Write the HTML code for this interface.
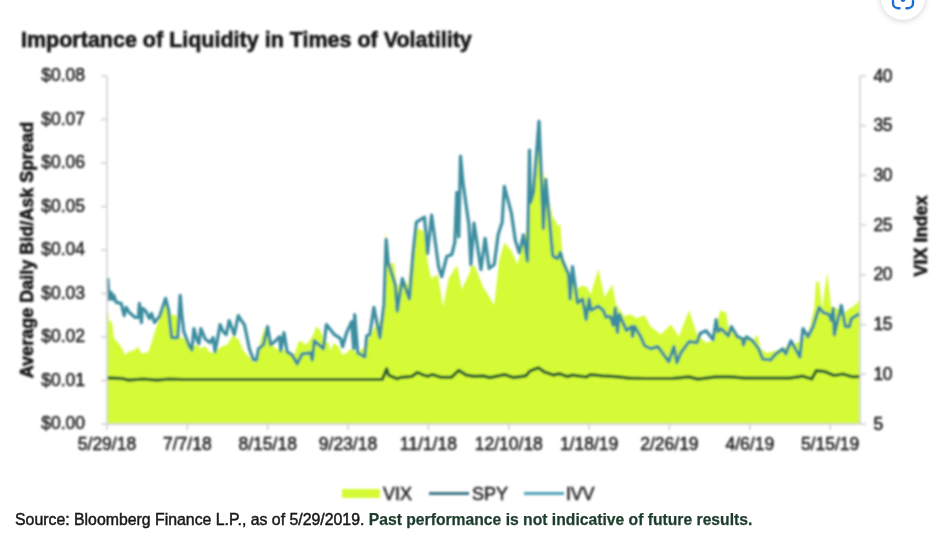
<!DOCTYPE html>
<html><head><meta charset="utf-8"><style>
html,body{margin:0;padding:0;background:#fff;width:941px;height:550px;overflow:hidden}
svg{position:absolute;left:0;top:0;display:block}
.lab{font-family:'Liberation Sans', sans-serif;font-size:17.5px;fill:#1c1c1c;stroke:#1c1c1c;stroke-width:0.5px;letter-spacing:0}
.ax{stroke:#cfcfcf;stroke-width:1.5}
</style></head><body>
<svg width="941" height="550" viewBox="0 0 941 550">
<defs><filter id="bl" x="-5%" y="-5%" width="110%" height="110%"><feGaussianBlur stdDeviation="1"/></filter></defs>
<rect width="941" height="550" fill="#fff"/>
<g filter="url(#bl)">
<text x="21" y="47" style="font-family:'Liberation Sans', sans-serif;font-weight:bold;font-size:21.5px;fill:#141414;stroke:#141414;stroke-width:0.55px">Importance of Liquidity in Times of Volatility</text>
<path d="M107.0 424.0 L107.0 310.5 L107.7 310.5 L109.1 320.5 L112.1 322.6 L114.1 338.7 L118.2 342.7 L122.2 348.8 L125.2 354.9 L128.3 351.8 L133.3 350.8 L138.4 346.8 L140.4 351.8 L142.4 353.8 L148.5 351.8 L152.5 339.7 L156.5 326.6 L160.6 316.5 L164.6 300.4 L167.6 308.4 L171.7 314.5 L176.7 315.5 L179.7 336.7 L184.8 338.7 L188.8 342.7 L192.9 345.8 L196.9 344.8 L200.9 348.8 L205.0 345.8 L209.0 351.8 L213.1 352.8 L221.1 346.8 L227.2 344.8 L233.3 334.7 L239.3 340.7 L243.3 350.8 L249.4 356.9 L253.4 362.9 L257.5 354.9 L261.5 336.7 L265.6 326.6 L269.6 340.7 L275.7 348.8 L280.0 348.8 L288.1 351.8 L294.1 354.9 L298.2 342.7 L300.2 340.7 L306.2 344.8 L312.3 336.7 L316.3 326.6 L320.4 330.6 L324.4 340.7 L328.5 342.7 L330.5 350.8 L333.5 342.7 L338.6 346.8 L342.6 354.9 L346.6 352.8 L350.7 348.8 L356.7 352.8 L364.8 346.8 L368.8 338.7 L374.9 326.6 L380.9 320.5 L380.9 320.0 L383.1 304.7 L385.3 230.5 L388.6 263.3 L394.0 263.3 L397.3 287.3 L402.8 278.6 L408.2 285.1 L412.6 243.6 L416.9 228.4 L423.5 230.5 L427.9 263.3 L431.1 278.6 L437.7 274.2 L443.1 306.9 L448.6 278.6 L454.1 269.8 L457.3 265.5 L461.7 289.5 L470.0 272.0 L470.9 264.6 L475.0 266.6 L483.1 286.8 L494.2 304.9 L499.2 260.5 L504.3 242.4 L511.3 250.5 L517.4 264.6 L526.5 230.3 L529.5 200.0 L537.6 150.0 L539.0 121.0 L541.6 172.2 L544.0 175.0 L547.7 194.4 L552.3 216.1 L558.4 226.2 L560.4 224.2 L562.4 254.5 L565.1 261.5 L572.8 281.9 L577.2 288.3 L582.3 285.7 L586.8 287.0 L590.6 294.6 L598.3 269.1 L604.6 297.2 L612.3 284.4 L616.1 304.8 L617.4 306.2 L624.4 316.3 L630.5 314.3 L636.5 318.3 L644.6 315.3 L650.7 326.4 L660.8 334.5 L670.9 324.4 L678.9 336.5 L689.0 310.3 L697.1 334.5 L706.1 342.8 L712.1 340.8 L720.2 310.5 L726.2 312.6 L728.3 326.7 L736.3 334.8 L752.5 340.8 L757.5 334.8 L760.6 348.9 L766.6 352.9 L774.7 350.9 L792.9 344.9 L800.9 340.8 L809.0 330.7 L814.1 308.5 L816.1 281.3 L819.1 282.3 L822.1 308.5 L827.2 272.2 L831.2 306.5 L837.3 308.5 L845.4 312.6 L847.4 310.5 L849.4 308.5 L853.4 306.5 L859.5 300.5 L860.0 300.5 L860.0 424.0 Z" fill="#d4fb35"/>
<path d="M107.2 377.8 L123.0 378.7 L128.7 380.1 L143.0 379.0 L157.4 380.1 L168.9 379.0 L183.2 379.5 L240.6 379.5 L370.0 379.5 L382.3 379.5 L386.6 368.8 L388.7 375.2 L397.2 378.8 L401.4 377.3 L412.1 376.3 L417.4 372.4 L423.8 375.2 L428.0 376.3 L432.3 374.6 L440.8 377.3 L451.4 377.3 L458.8 370.3 L466.3 375.2 L474.8 376.3 L483.3 375.9 L489.7 377.6 L504.5 374.6 L513.0 377.6 L525.8 375.9 L530.0 371.0 L538.5 367.8 L544.5 372.1 L553.4 375.1 L559.3 373.6 L566.8 376.6 L572.7 375.1 L586.1 377.0 L590.6 374.6 L602.5 375.8 L615.9 376.6 L629.3 378.1 L644.2 378.5 L659.0 378.5 L673.4 378.4 L689.0 376.9 L697.9 379.1 L715.8 376.9 L731.4 376.9 L744.8 378.2 L789.5 378.2 L802.9 376.2 L811.8 379.1 L816.3 370.6 L825.2 371.7 L834.1 375.5 L843.0 374.0 L852.0 376.7 L860.0 376.7" fill="none" stroke="#1b5a32" stroke-width="3.2" stroke-linejoin="round"/>
<path d="M107.7 278.2 L109.1 299.4 L111.1 292.3 L112.5 299.4 L113.7 295.3 L116.2 302.4 L121.2 303.4 L124.2 315.5 L126.2 307.4 L129.3 312.5 L135.3 317.5 L138.4 317.5 L139.4 303.4 L141.4 322.6 L142.4 308.4 L145.4 310.5 L149.5 318.5 L151.5 313.5 L154.5 322.6 L159.6 316.5 L165.6 298.3 L168.6 310.5 L171.7 337.7 L177.7 337.7 L180.2 295.3 L181.8 314.5 L183.8 331.6 L188.8 344.8 L191.9 349.8 L193.9 328.6 L196.9 339.7 L198.9 343.8 L200.9 328.6 L205.0 338.7 L210.0 342.7 L213.1 337.7 L215.1 351.8 L220.1 324.6 L223.2 331.6 L226.2 334.7 L229.2 320.5 L234.3 334.7 L238.3 315.5 L241.3 320.5 L244.4 324.6 L249.4 348.8 L253.4 359.9 L256.5 359.9 L258.5 348.8 L263.5 344.8 L267.6 326.6 L270.6 344.8 L273.6 342.7 L279.7 336.7 L280.7 350.8 L284.0 332.7 L287.1 351.8 L292.1 354.9 L297.2 363.9 L302.2 353.8 L310.3 352.8 L312.3 359.9 L314.3 340.7 L323.4 348.8 L326.4 324.6 L334.5 334.7 L340.6 338.7 L342.6 346.8 L346.6 332.7 L351.7 321.6 L353.7 348.8 L354.7 314.5 L357.7 352.8 L364.8 356.9 L366.8 335.7 L369.8 334.7 L373.9 307.4 L379.9 337.7 L384.0 304.4 L386.2 239.4 L388.2 262.6 L395.2 284.8 L397.3 311.0 L402.3 278.7 L409.4 298.9 L413.4 250.5 L416.4 222.2 L424.5 217.2 L427.5 253.5 L431.6 215.1 L438.6 266.6 L441.7 276.7 L446.7 256.5 L451.8 254.5 L454.8 242.4 L456.8 192.4 L458.8 236.8 L460.5 156.1 L462.9 182.3 L468.9 224.7 L470.9 264.6 L474.0 223.2 L481.0 269.6 L485.1 238.3 L489.1 268.6 L494.2 264.6 L498.2 234.3 L502.2 222.2 L504.3 186.3 L511.3 212.6 L515.4 240.8 L519.4 252.9 L523.4 234.8 L527.5 261.0 L529.5 150.0 L530.5 202.5 L533.5 192.4 L539.0 121.3 L543.4 228.5 L545.7 179.3 L552.7 255.5 L553.3 256.5 L557.4 258.5 L560.4 252.5 L562.4 260.5 L568.5 274.7 L570.1 298.9 L572.5 266.6 L577.5 302.9 L582.6 298.9 L586.1 319.4 L589.1 299.2 L591.1 310.3 L598.2 306.2 L603.2 310.3 L606.2 317.3 L610.3 316.3 L613.3 325.4 L615.3 308.3 L617.4 332.5 L619.4 314.3 L626.4 330.5 L631.5 326.4 L632.5 336.5 L634.5 326.4 L640.6 336.5 L644.6 345.6 L650.7 348.6 L657.7 346.6 L660.8 350.6 L668.8 361.7 L673.9 346.6 L676.9 362.7 L680.9 352.7 L689.0 341.6 L697.1 342.6 L700.1 333.5 L706.1 330.7 L713.1 339.8 L716.2 319.6 L718.2 331.7 L721.2 328.7 L728.3 335.8 L731.3 326.7 L737.4 336.8 L742.4 338.8 L743.4 344.9 L746.4 336.8 L752.5 340.8 L758.6 348.9 L762.6 359.0 L770.7 360.0 L774.7 354.9 L782.8 348.9 L785.8 353.9 L790.9 340.8 L799.9 357.0 L803.0 328.7 L808.0 336.8 L813.1 326.7 L819.1 307.5 L823.2 312.6 L829.2 314.6 L831.2 320.6 L833.3 308.5 L834.3 334.8 L841.3 305.5 L845.4 326.7 L849.4 326.7 L851.4 318.6 L859.5 313.6" fill="none" stroke="#3a8c9e" stroke-width="3.2" stroke-linejoin="round"/>
<line x1="107" y1="76" x2="107" y2="424" class="ax"/>
<line x1="860" y1="76" x2="860" y2="424" class="ax"/>
<line x1="107" y1="424" x2="860" y2="424" class="ax"/>
<line x1="101" y1="424.0" x2="107" y2="424.0" class="ax"/><text x="85" y="429.0" text-anchor="end" class="lab">$0.00</text><line x1="101" y1="380.5" x2="107" y2="380.5" class="ax"/><text x="85" y="385.5" text-anchor="end" class="lab">$0.01</text><line x1="101" y1="337.0" x2="107" y2="337.0" class="ax"/><text x="85" y="342.0" text-anchor="end" class="lab">$0.02</text><line x1="101" y1="293.5" x2="107" y2="293.5" class="ax"/><text x="85" y="298.5" text-anchor="end" class="lab">$0.03</text><line x1="101" y1="250.0" x2="107" y2="250.0" class="ax"/><text x="85" y="255.0" text-anchor="end" class="lab">$0.04</text><line x1="101" y1="206.5" x2="107" y2="206.5" class="ax"/><text x="85" y="211.5" text-anchor="end" class="lab">$0.05</text><line x1="101" y1="163.0" x2="107" y2="163.0" class="ax"/><text x="85" y="168.0" text-anchor="end" class="lab">$0.06</text><line x1="101" y1="119.5" x2="107" y2="119.5" class="ax"/><text x="85" y="124.5" text-anchor="end" class="lab">$0.07</text><line x1="101" y1="76.0" x2="107" y2="76.0" class="ax"/><text x="85" y="81.0" text-anchor="end" class="lab">$0.08</text>
<line x1="860" y1="424.0" x2="866" y2="424.0" class="ax"/><text x="873.5" y="429.5" class="lab" style="letter-spacing:-0.4px">5</text><line x1="860" y1="374.3" x2="866" y2="374.3" class="ax"/><text x="873.5" y="379.8" class="lab" style="letter-spacing:-0.4px">10</text><line x1="860" y1="324.6" x2="866" y2="324.6" class="ax"/><text x="873.5" y="330.1" class="lab" style="letter-spacing:-0.4px">15</text><line x1="860" y1="274.9" x2="866" y2="274.9" class="ax"/><text x="873.5" y="280.4" class="lab" style="letter-spacing:-0.4px">20</text><line x1="860" y1="225.2" x2="866" y2="225.2" class="ax"/><text x="873.5" y="230.7" class="lab" style="letter-spacing:-0.4px">25</text><line x1="860" y1="175.4" x2="866" y2="175.4" class="ax"/><text x="873.5" y="180.9" class="lab" style="letter-spacing:-0.4px">30</text><line x1="860" y1="125.7" x2="866" y2="125.7" class="ax"/><text x="873.5" y="131.2" class="lab" style="letter-spacing:-0.4px">35</text><line x1="860" y1="76.0" x2="866" y2="76.0" class="ax"/><text x="873.5" y="81.5" class="lab" style="letter-spacing:-0.4px">40</text>
<line x1="107.0" y1="424" x2="107.0" y2="430" class="ax"/><text x="107.0" y="449.5" text-anchor="middle" class="lab">5/29/18</text><line x1="187.3" y1="424" x2="187.3" y2="430" class="ax"/><text x="187.3" y="449.5" text-anchor="middle" class="lab">7/7/18</text><line x1="267.7" y1="424" x2="267.7" y2="430" class="ax"/><text x="267.7" y="449.5" text-anchor="middle" class="lab">8/15/18</text><line x1="348.0" y1="424" x2="348.0" y2="430" class="ax"/><text x="348.0" y="449.5" text-anchor="middle" class="lab">9/23/18</text><line x1="428.4" y1="424" x2="428.4" y2="430" class="ax"/><text x="428.4" y="449.5" text-anchor="middle" class="lab">11/1/18</text><line x1="508.8" y1="424" x2="508.8" y2="430" class="ax"/><text x="508.8" y="449.5" text-anchor="middle" class="lab">12/10/18</text><line x1="589.1" y1="424" x2="589.1" y2="430" class="ax"/><text x="589.1" y="449.5" text-anchor="middle" class="lab">1/18/19</text><line x1="669.4" y1="424" x2="669.4" y2="430" class="ax"/><text x="669.4" y="449.5" text-anchor="middle" class="lab">2/26/19</text><line x1="749.8" y1="424" x2="749.8" y2="430" class="ax"/><text x="749.8" y="449.5" text-anchor="middle" class="lab">4/6/19</text><line x1="830.1" y1="424" x2="830.1" y2="430" class="ax"/><text x="830.1" y="449.5" text-anchor="middle" class="lab">5/15/19</text>
<text transform="translate(33,250) rotate(-90)" text-anchor="middle" style="font-family:'Liberation Sans', sans-serif;font-weight:bold;font-size:18px;fill:#141414;stroke:#141414;stroke-width:0.6px">Average Daily Bid/Ask Spread</text>
<text transform="translate(927,236) rotate(-90)" text-anchor="middle" style="font-family:'Liberation Sans', sans-serif;font-weight:bold;font-size:18px;fill:#141414;stroke:#141414;stroke-width:0.6px">VIX Index</text>
<rect x="342" y="489" width="38" height="9" fill="#d4fb35"/>
<text x="383" y="499.5" class="lab" style="font-size:18px;letter-spacing:0">VIX</text>
<line x1="429" y1="493.5" x2="469" y2="493.5" stroke="#3d7585" stroke-width="3.2"/>
<text x="472" y="499.5" class="lab" style="font-size:18px;letter-spacing:0">SPY</text>
<line x1="524" y1="493.5" x2="564" y2="493.5" stroke="#4fa3b8" stroke-width="3.2"/>
<text x="566" y="499.5" class="lab" style="font-size:18px;letter-spacing:-0.2px">IVV</text>

</g>
<defs><filter id="bl2" x="-2%" y="-20%" width="104%" height="140%"><feGaussianBlur stdDeviation="0.5"/></filter></defs>
<g filter="url(#bl2)"><text x="15" y="524.5" style="font-family:'Liberation Sans', sans-serif;font-size:15.85px;fill:#161616;stroke:#161616;stroke-width:0.45px">Source: Bloomberg Finance L.P., as of 5/29/2019. <tspan style="font-weight:bold;fill:#1f3d2d;stroke:#1f3d2d;stroke-width:0.25px;font-size:15.7px">Past performance is not indicative of future results.</tspan></text></g>
<circle cx="903" cy="-2" r="22" fill="#fff" style="filter:drop-shadow(0 1px 3px rgba(0,0,0,0.18))"/>
<path d="M893 1 v2.2 a5 5 0 0 0 5 5 h1.5 M913 1 v2.2 a5 5 0 0 1 -5 5 h-1.5" fill="none" stroke="#1a6fd1" stroke-width="2.4" stroke-linecap="round"/>
<circle cx="903" cy="-0.5" r="2.4" fill="#1a6fd1"/>
</svg>
</body></html>
